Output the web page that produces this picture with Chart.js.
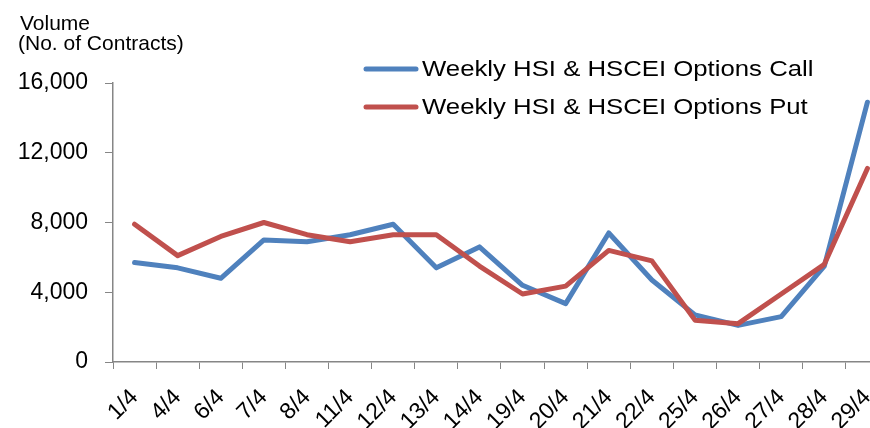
<!DOCTYPE html>
<html>
<head>
<meta charset="utf-8">
<script src="https://cdn.jsdelivr.net/npm/chart.js@4"></script>
<style>
  html, body { margin: 0; padding: 0; background: #fff; overflow: hidden; }
  #wrap { position: relative; width: 902px; height: 428px; }
</style>
</head>
<body>
<div id="wrap"><canvas id="myChart"></canvas></div>
<script>
// data
var dates = ['1/4','4/4','6/4','7/4','8/4','11/4','12/4','13/4','14/4','19/4','20/4','21/4','22/4','25/4','26/4','27/4','28/4','29/4'];
var callVol = [5700, 5400, 4800, 7000, 6900, 7300, 7900, 5400, 6600, 4400, 3350, 7400, 4700, 2700, 2100, 2600, 5500, 14900];
var putVol = [7900, 6100, 7200, 8000, 7300, 6900, 7300, 7300, 5500, 3900, 4350, 6400, 5800, 2400, 2200, 3900, 5600, 11100];
var yTicks = [0, 4000, 8000, 12000, 16000];
var titleLines = ['Volume', '(No. of Contracts)'];

var axisGrey = '#868686';
var font = 'Liberation Sans, Arial, sans-serif';

// title at top left + legend stacked inside the plot
var extras = {
    id: 'extras',
    afterDraw: function(chart) {
        var c = chart.ctx;
        c.save();
        c.fillStyle = '#000';
        c.textBaseline = 'alphabetic';
        c.textAlign = 'left';
        c.font = '21px ' + font;
        c.fillText(titleLines[0], 20, 30);
        c.fillText(titleLines[1], 18, 50);

        var rows = [0, 1];
        rows.forEach(function(i) {
            var ds = chart.data.datasets[i];
            var y = 69 + i * 38;
            c.strokeStyle = ds.borderColor;
            c.lineWidth = 5;
            c.lineCap = 'round';
            c.beginPath();
            c.moveTo(366, y);
            c.lineTo(416, y);
            c.stroke();
            c.save();
            c.translate(422, y);
            c.scale(1.17, 1);
            c.textBaseline = 'middle';
            c.font = '22px ' + font;
            c.fillText(ds.label, 0, 1);
            c.restore();
        });
        c.restore();
    }
};

var ctx = document.getElementById('myChart');
var myChart = new Chart(ctx, {
    type: 'line',
    data: {
        labels: dates,
        datasets: [
            {
                label: 'Weekly HSI & HSCEI Options Call',
                data: callVol,
                borderColor: '#4F81BD',//blue
                borderWidth: 5,
                pointRadius: 0,
                borderCapStyle: 'round',
                borderJoinStyle: 'round',
                fill: false,
                order: 1
            },
            {
                label: 'Weekly HSI & HSCEI Options Put',
                data: putVol,
                borderColor: '#C0504D',//red
                borderWidth: 5,
                pointRadius: 0,
                borderCapStyle: 'round',
                borderJoinStyle: 'round',
                fill: false,
                order: 0
            }
        ]
    },
    plugins: [extras],
    options: {
        responsive: true,
        maintainAspectRatio: false,
        animation: false,
        layout: { padding: { top: 83, right: 2, left: 0, bottom: 0 } },
        plugins: {
            legend: { display: false },
            tooltip: { enabled: false },
            title: { display: false }
        },
        scales: {
            x: {
                offset: true,
                grid: {
                    offset: true,
                    drawOnChartArea: false,
                    drawTicks: true,
                    tickLength: 7,
                    color: axisGrey
                },
                border: { display: true, color: axisGrey, width: 1.5 },
                ticks: {
                    autoSkip: false,
                    minRotation: 45,
                    maxRotation: 45,
                    padding: 15,
                    color: '#000',
                    font: { family: font, size: 23 }
                },
                afterFit: function(scale) { scale.height = 66; }
            },
            y: {
                min: yTicks[0],
                max: yTicks[yTicks.length - 1],
                afterBuildTicks: function(scale) {
                    scale.ticks = yTicks.map(function(v) { return { value: v }; });
                },
                grid: {
                    drawOnChartArea: false,
                    drawTicks: true,
                    tickLength: 8,
                    color: axisGrey
                },
                border: { display: true, color: axisGrey, width: 1.5 },
                ticks: {
                    padding: 17,
                    color: '#000',
                    font: { family: font, size: 23 },
                    callback: function(v) { return v.toLocaleString('en-US'); }
                },
                afterFit: function(scale) { scale.width = 113; }
            }
        }
    }
});
</script>
</body>
</html>
